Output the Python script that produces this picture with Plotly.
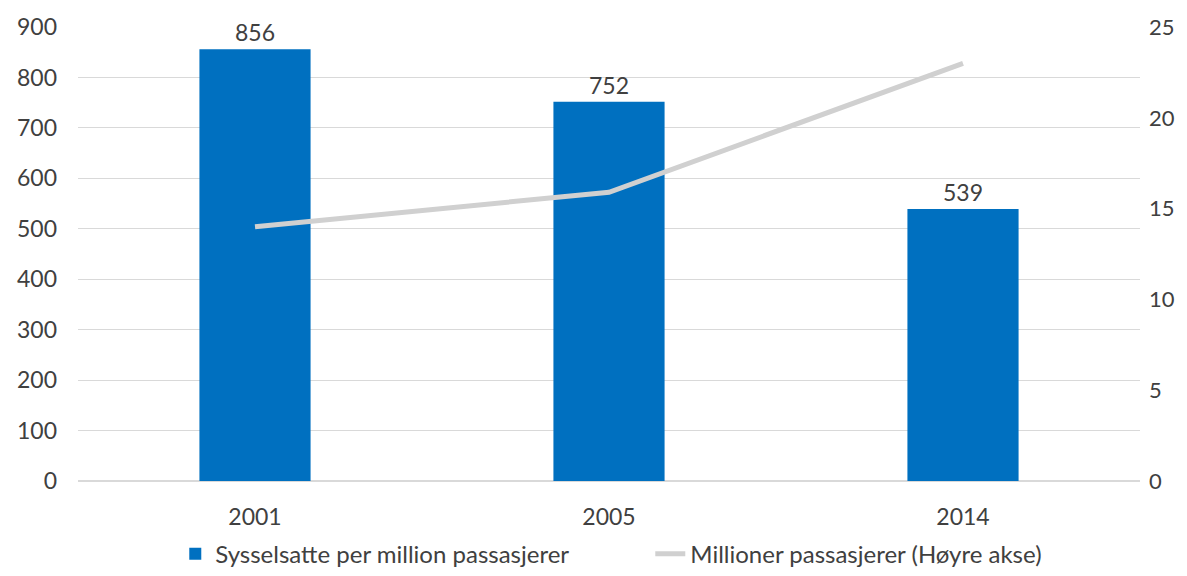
import plotly.graph_objects as go

years = ["2001", "2005", "2014"]
employees_per_million = [856, 752, 539]
million_passengers = [14.0, 15.9, 23.0]

font_family = "Lato, 'Open Sans', sans-serif"
text_color = "#404040"
fs = 23

fig = go.Figure()
fig.add_trace(go.Bar(
    x=years, y=employees_per_million,
    name="Sysselsatte per million passasjerer",
    marker=dict(color="#0070C0", line=dict(width=0)),
    text=[str(v) for v in employees_per_million],
    textposition="outside",
    textfont=dict(size=fs, color=text_color, family=font_family),
    cliponaxis=False,
))
fig.add_trace(go.Scatter(
    x=years, y=million_passengers,
    name="Millioner passasjerer (Høyre akse)",
    mode="lines",
    line=dict(color="#D0D0D0", width=5),
    yaxis="y2",
))

# page body has an 8px margin, so the figure is sized/offset to compensate
fig.update_layout(
    width=1171, height=560,
    margin=dict(l=70, r=39, t=19, b=87, autoexpand=False),
    plot_bgcolor="white", paper_bgcolor="white",
    font=dict(family=font_family, size=fs, color=text_color),
    bargap=0.686,
    xaxis=dict(showgrid=False, showline=False, ticks="", tickfont=dict(size=fs),
               ticklabelstandoff=20, automargin=False),
    yaxis=dict(range=[0, 900], dtick=100, showgrid=True, gridcolor="#D9D9D9",
               gridwidth=1, zeroline=True, zerolinecolor="#D9D9D9", showline=False,
               ticks="", tickfont=dict(size=fs), ticklabelstandoff=20, automargin=False),
    yaxis2=dict(range=[0, 25], dtick=5, overlaying="y", side="right",
                showgrid=False, zeroline=False, showline=False, ticks="",
                tickfont=dict(size=22), ticklabelstandoff=8, automargin=False),
    legend=dict(orientation="h", x=0.0916, xanchor="left", y=-0.161, yanchor="middle",
                font=dict(size=24, color=text_color), entrywidth=430,
                entrywidthmode="pixels", traceorder="normal"),
    showlegend=True,
)

fig.write_html("out.html")
